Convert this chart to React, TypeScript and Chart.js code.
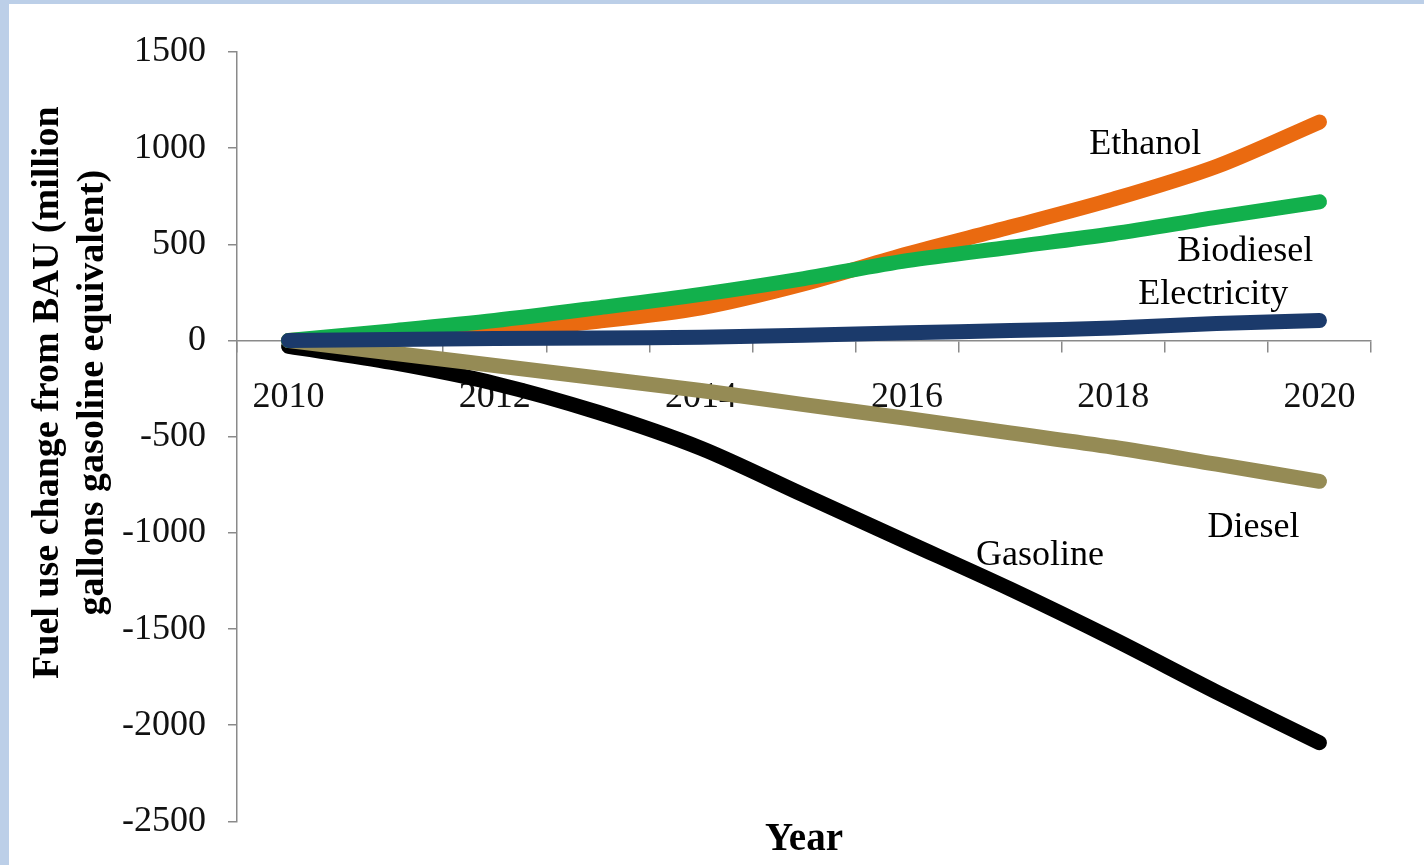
import React, { useEffect, useRef } from 'react';
import { Chart, registerables } from 'chart.js';

Chart.register(...registerables);

// ---- data ----
const years = ['2010', '2011', '2012', '2013', '2014', '2015', '2016', '2017', '2018', '2019', '2020'];
const ethanol = [0, 18, 50, 100, 170, 295, 450, 590, 735, 905, 1136];
const biodiesel = [0, 50, 104, 170, 240, 322, 415, 485, 555, 640, 721];
const electricity = [0, 5, 10, 13, 17, 28, 40, 52, 65, 88, 104];
const diesel = [0, -65, -130, -195, -260, -333, -405, -480, -555, -643, -732];
const gasoline = [-30, -114, -223, -373, -560, -804, -1048, -1292, -1552, -1827, -2091];

const yMin = -2500;
const yMax = 1500;
const yStep = 500;

// series drawn top-most first
const seriesNames = ['Electricity', 'Biodiesel', 'Diesel', 'Ethanol', 'Gasoline'];
const seriesValues = [electricity, biodiesel, diesel, ethanol, gasoline];
const seriesColors = ['#1b3a6b', '#12b04c', '#958b55', '#ea6a10', '#000000'];

// in-chart series labels, anchored in data coordinates (category index, value)
const labelTexts = ['Ethanol', 'Biodiesel', 'Electricity', 'Diesel', 'Gasoline'];
const labelAt = [8.31, 9.28, 8.97, 9.36, 7.29];
const labelVal = [970, 415, 192, -1022, -1168];

const yTitle = ['Fuel use change from BAU (million', 'gallons gasoline equivalent)'];
const xTitle = 'Year';

const FONT = '"Liberation Serif", "Times New Roman", serif';

const textPlugin = {
  id: 'textPlugin',
  afterDraw(chart: any) {
    const ctx = chart.ctx;
    const xs = chart.scales.x;
    const ys = chart.scales.y;
    const ca = chart.chartArea;
    ctx.save();
    ctx.fillStyle = '#000';
    ctx.font = `36px ${FONT}`;
    ctx.textAlign = 'center';
    ctx.textBaseline = 'alphabetic';
    labelTexts.forEach((t, i) => {
      ctx.fillText(t, xs.getPixelForValue(labelAt[i]), ys.getPixelForValue(labelVal[i]));
    });
    // x title
    ctx.font = `bold 39px ${FONT}`;
    ctx.fillText(xTitle, (ca.left + ca.right) / 2, ca.bottom + 29);
    // y title (two lines, rotated)
    ctx.font = `bold 38px ${FONT}`;
    const cy = (ca.top + ca.bottom) / 2 - 44;
    const baselines = [49, 94];
    yTitle.forEach((t, i) => {
      ctx.save();
      ctx.translate(baselines[i], cy);
      ctx.rotate(-Math.PI / 2);
      ctx.fillText(t, 0, 0);
      ctx.restore();
    });
    ctx.restore();
  },
};

export default function App() {
  const ref = useRef<HTMLCanvasElement | null>(null);
  useEffect(() => {
    if (!ref.current) return;
    const chart = new Chart(ref.current, {
      type: 'line',
      data: {
        labels: years,
        datasets: seriesNames.map((n, i) => ({
          label: n,
          data: seriesValues[i],
          borderColor: seriesColors[i],
          backgroundColor: seriesColors[i],
          borderWidth: 15,
          borderCapStyle: 'round',
          borderJoinStyle: 'round',
          pointRadius: 0,
          pointHoverRadius: 0,
          tension: 0.3,
          fill: false,
        })),
      },
      options: {
        animation: false,
        responsive: false,
        devicePixelRatio: 1,
        layout: { padding: { left: 0, top: 48, right: 53, bottom: 42 } },
        plugins: { legend: { display: false }, tooltip: { enabled: false } },
        scales: {
          x: {
            type: 'category',
            position: { y: 0 },
            offset: true,
            grid: {
              offset: true,
              drawOnChartArea: false,
              drawTicks: true,
              tickLength: 11,
              color: '#8a8a8a',
              lineWidth: 1.5,
            },
            border: { display: true, color: '#8a8a8a', width: 1.5 },
            ticks: {
              autoSkip: false,
              maxRotation: 0,
              minRotation: 0,
              padding: 24,
              color: '#111',
              font: { family: FONT, size: 36 },
              callback: (_v: any, i: number) => (i % 2 === 0 ? years[i] : ''),
            },
          },
          y: {
            type: 'linear',
            min: yMin,
            max: yMax,
            afterFit: (s: any) => {
              s.width = 228;
            },
            grid: {
              drawOnChartArea: false,
              drawTicks: true,
              tickLength: 9,
              color: '#8a8a8a',
              lineWidth: 1.5,
            },
            border: { display: true, color: '#8a8a8a', width: 1.5 },
            ticks: {
              stepSize: yStep,
              padding: 22,
              color: '#111',
              font: { family: FONT, size: 36 },
              callback: (v: any) => String(v),
            },
          },
        },
      },
      plugins: [textPlugin],
    } as any);
    return () => chart.destroy();
  }, []);
  return (
    <div style={{ position: 'absolute', left: 0, top: 0, width: 1424, height: 865, background: '#bccfe8', overflow: 'hidden' }}>
      <canvas
        ref={ref}
        width={1415}
        height={861}
        style={{ position: 'absolute', left: 9, top: 4, width: 1415, height: 861, background: '#ffffff', display: 'block' }}
      />
    </div>
  );
}
